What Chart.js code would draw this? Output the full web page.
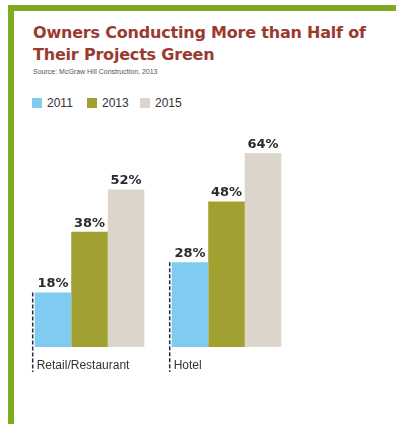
<!DOCTYPE html>
<html>
<head>
<meta charset="utf-8">
<script src="https://cdn.jsdelivr.net/npm/chart.js@4"></script>
<style>
  html, body { margin: 0; padding: 0; background: #fff; }
  #wrap { position: relative; width: 396px; height: 424px; overflow: hidden; }
  .frame-top { position: absolute; left: 8px; top: 5px; width: 388px; height: 6px; background: #7fab1e; }
  .frame-left { position: absolute; left: 8px; top: 5px; width: 6px; height: 419px; background: #7fab1e; }
  h1 { position: absolute; left: 33px; top: 22px; margin: 0; font: bold 16px/22px "DejaVu Sans", sans-serif; color: #9a3a31; letter-spacing: -0.2px; }
  .source { position: absolute; left: 33px; top: 68px; font: 7px "Liberation Sans Narrow", "Liberation Sans", sans-serif; color: #555; }
  .legend { position: absolute; top: 96px; left: 32px; font: 12px "Liberation Sans Narrow", "Liberation Sans", sans-serif; color: #333; }
  .legend span { position: absolute; white-space: nowrap; }
  .legend i { display: inline-block; width: 10px; height: 10px; vertical-align: -1px; margin-right: 5px; }
  canvas { position: absolute; left: 0; top: 0; }
</style>
</head>
<body>
<div id="wrap">
  <div class="frame-top"></div>
  <div class="frame-left"></div>
  <h1>Owners Conducting More than Half of<br>Their Projects Green</h1>
  <div class="source">Source: McGraw Hill Construction, 2013</div>
  <div class="legend" id="legend"></div>
  <canvas id="chart" width="396" height="424"></canvas>
</div>
<script>
const categories = ['Retail/Restaurant', 'Hotel'];
const years = ['2011', '2013', '2015'];
const share2011 = [18, 28];
const share2013 = [38, 48];
const share2015 = [52, 64];
const colors = ['#80ccf1', '#a1a132', '#dcd5cb'];

// legend row built from the same years/colors
const legendOffsets = [0, 55, 108];
const legend = document.getElementById('legend');
years.forEach((y, i) => {
    const s = document.createElement('span');
    s.style.left = legendOffsets[i] + 'px';
    s.innerHTML = '<i style="background:' + colors[i] + '"></i>' + y;
    legend.appendChild(s);
});

// value labels above the bars + dashed marker and name under each group
const groupDecor = {
    id: 'groupDecor',
    afterDatasetsDraw(chart) {
        const ctx = chart.ctx;
        ctx.save();
        ctx.fillStyle = '#2b2b2b';
        ctx.font = 'bold 13px "DejaVu Sans", sans-serif';
        ctx.textAlign = 'center';
        ctx.textBaseline = 'bottom';
        chart.data.datasets.forEach((ds, di) => {
            chart.getDatasetMeta(di).data.forEach((bar, i) => {
                ctx.fillText(ds.data[i] + '%', bar.x, bar.y - 2);
            });
        });

        const first = chart.getDatasetMeta(0).data;
        first.forEach((bar, i) => {
            const x = bar.x - bar.width / 2 - 2;
            ctx.strokeStyle = '#1f2f45';
            ctx.lineWidth = 1.5;
            ctx.setLineDash([4, 2]);
            ctx.beginPath();
            ctx.moveTo(x, bar.y);
            ctx.lineTo(x, chart.chartArea.bottom + 25);
            ctx.stroke();
            ctx.setLineDash([]);

            ctx.fillStyle = '#333';
            ctx.font = '12px "Liberation Sans Narrow", "Liberation Sans", sans-serif';
            ctx.textAlign = 'left';
            ctx.textBaseline = 'middle';
            ctx.fillText(categories[i], x + 4, chart.chartArea.bottom + 19);
        });
        ctx.restore();
    }
};

new Chart(document.getElementById('chart'), {
    type: 'bar',
    data: {
        labels: categories,
        datasets: [
            { label: years[0], data: share2011, backgroundColor: colors[0] },
            { label: years[1], data: share2013, backgroundColor: colors[1] },
            { label: years[2], data: share2015, backgroundColor: colors[2] }
        ]
    },
    options: {
        responsive: false,
        animation: false,
        layout: { padding: { left: 21, right: 101, top: 44, bottom: 77 } },
        datasets: { bar: { categoryPercentage: 0.8, barPercentage: 1.0, borderWidth: 0 } },
        scales: {
            x: { display: false },
            y: { display: false, min: 0, max: 100 }
        },
        plugins: {
            legend: { display: false },
            tooltip: { enabled: false }
        }
    },
    plugins: [groupDecor]
});
</script>
</body>
</html>
